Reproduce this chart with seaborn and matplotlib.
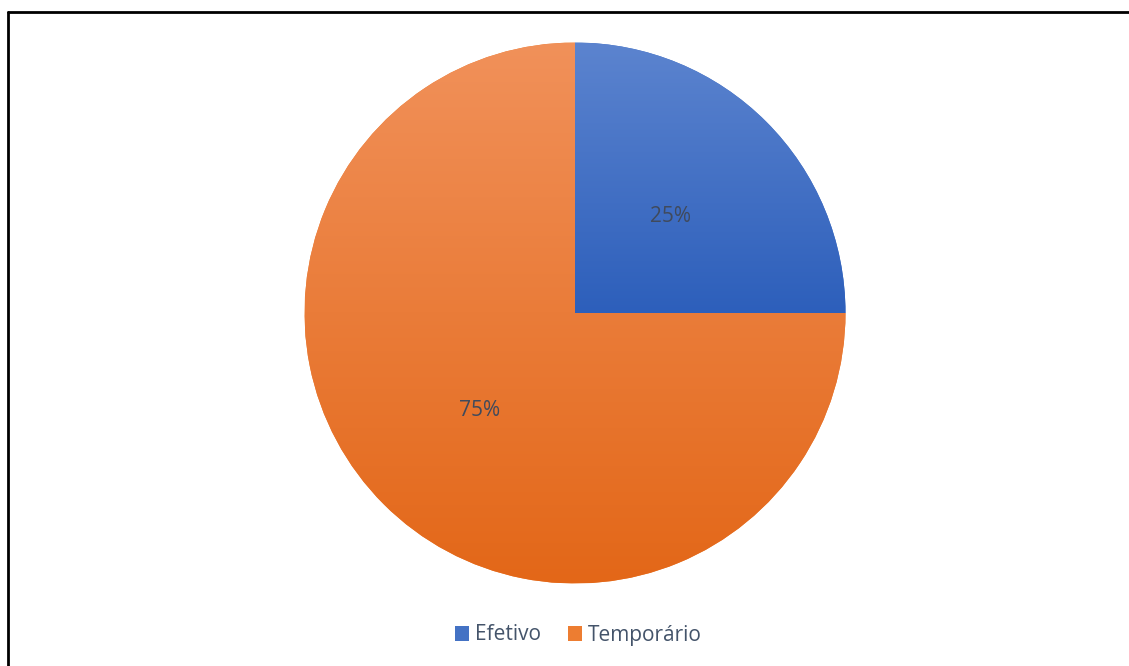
import numpy as np
import matplotlib
matplotlib.use("Agg")
import matplotlib.pyplot as plt
import seaborn as sns
from matplotlib.colors import LinearSegmentedColormap
from matplotlib.patches import Patch
from matplotlib.lines import Line2D

sns.set_theme(style="white")
plt.rcParams['font.family'] = ['Open Sans', 'DejaVu Sans']

categories = ["Efetivo", "Temporário"]
values = [25, 75]
labels = ["25%", "75%"]

top_colors = ["#5c84cf", "#f1915a"]
bottom_colors = ["#2d5fbb", "#e36718"]
base_colors = ["#4472c4", "#ed7d31"]

W, H = 1129, 666
fig = plt.figure(figsize=(W / 100, H / 100), dpi=100)
fig.patch.set_facecolor("white")

# border (left and top visible)
fig.add_artist(Line2D([7.5 / W, 7.5 / W], [0, 1 - 12 / H], transform=fig.transFigure, color="black", lw=2))
fig.add_artist(Line2D([7.5 / W, 1], [1 - 12 / H, 1 - 12 / H], transform=fig.transFigure, color="black", lw=2))

cx, cy, r = 575, 313, 270.5
ax = fig.add_axes([(cx - r) / W, (H - cy - r) / H, 2 * r / W, 2 * r / H])
wedges, _ = ax.pie(values, startangle=90, counterclock=False, colors=base_colors,
                   radius=1, center=(0, 0), wedgeprops=dict(linewidth=0))
ax.set_xlim(-1, 1)
ax.set_ylim(-1, 1)
ax.set_aspect("equal")
ax.axis("off")

grad = np.linspace(1, 0, 256).reshape(-1, 1)
for w, tc, bc in zip(wedges, top_colors, bottom_colors):
    bb = w.get_path().get_extents()
    cmap = LinearSegmentedColormap.from_list("g", [bc, tc])
    im = ax.imshow(grad, cmap=cmap, extent=[bb.x0, bb.x1, bb.y0, bb.y1], origin="upper",
                   aspect="auto", zorder=2, interpolation="bilinear")
    im.set_clip_path(w)
ax.set_xlim(-1, 1)
ax.set_ylim(-1, 1)

# percentage labels
ax.text(0.353, 0.355, labels[0], ha="center", va="center", fontsize=15, color="#404a5c", zorder=5)
ax.text(-0.353, -0.36, labels[1], ha="center", va="center", fontsize=15, color="#404a5c", zorder=5)

handles = [Patch(facecolor=c, edgecolor="none") for c in base_colors]
fig.legend(handles, categories, loc="center", bbox_to_anchor=(578 / W, 1 - 635 / H),
           ncol=2, frameon=False, fontsize=15, handlelength=0.7, handleheight=0.7,
           handletextpad=0.25, columnspacing=1.3, labelcolor="#44546a")

fig.savefig("out.png", dpi=100, facecolor="white")
